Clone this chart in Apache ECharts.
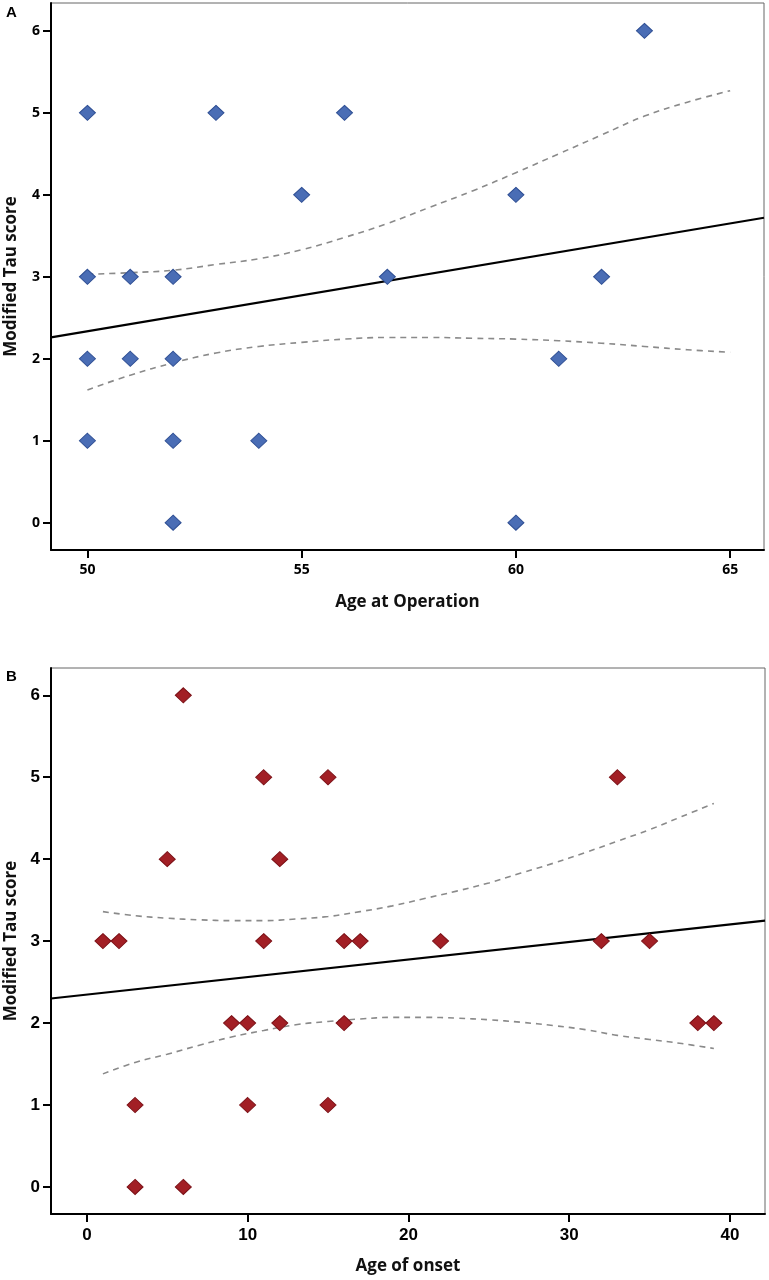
<!DOCTYPE html>
<html>
<head>
<meta charset="utf-8">
<script src="https://cdn.jsdelivr.net/npm/echarts@6/dist/echarts.min.js"></script>
<style>
html,body{margin:0;padding:0;background:#fff;}
#chart{width:769px;height:1280px;}
</style>
</head>
<body>
<div id="chart"></div>
<script>
// ---------- Panel A: Age at Operation vs Modified Tau score ----------
const aAge = [50,50,50,50,51,51,52,52,52,52,53,54,55,56,57,60,60,61,62,63];
const aTau = [5,3,2,1,3,2,3,2,1,0,5,1,4,5,3,4,0,2,3,6];
const aFitX = [49.15, 65.79];
const aFitY = [2.26, 3.72];
const aCiX = [50,51,52,53,54,55,56,57,58,59,60,61,62,63,64,65];
const aCiUpper = [3.03,3.05,3.08,3.15,3.22,3.33,3.48,3.65,3.85,4.05,4.27,4.5,4.73,4.96,5.13,5.27];
const aCiLower = [1.62,1.8,1.95,2.07,2.15,2.2,2.24,2.26,2.26,2.25,2.24,2.22,2.19,2.15,2.11,2.08];
const aXTicks = [50,55,60,65];
const aYTicks = [0,1,2,3,4,5,6];

// ---------- Panel B: Age of onset vs Modified Tau score ----------
const bAge = [6,11,15,33,5,12,1,2,11,16,17,22,32,35,9,10,12,16,38,39,3,10,15,3,6];
const bTau = [6,5,5,5,4,4,3,3,3,3,3,3,3,3,2,2,2,2,2,2,1,1,1,0,0];
const bFitX = [-2.23, 42.18];
const bFitY = [2.30, 3.25];
const bCiX = [1,3,5,7,9,11,13,15,17,19,21,23,25,27,29,31,33,35,37,39];
const bCiUpper = [3.36,3.31,3.28,3.26,3.25,3.25,3.27,3.3,3.36,3.43,3.52,3.61,3.71,3.83,3.95,4.08,4.22,4.36,4.52,4.68];
const bCiLower = [1.38,1.52,1.62,1.73,1.83,1.91,1.98,2.02,2.05,2.07,2.07,2.06,2.04,2.01,1.97,1.92,1.85,1.80,1.75,1.69];
const bXTicks = [0,10,20,30,40];
const bYTicks = [0,1,2,3,4,5,6];

const zip = (xs, ys) => xs.map((x, i) => [x, ys[i]]);

const fontA = '"Open Sans", "DejaVu Sans", sans-serif';
const fontB = '"Liberation Sans Narrow", "Liberation Sans", sans-serif';

function xAxisOf(idx, min, max, ticks, name, labelFont, labelSize) {
  return {
    type: 'value', gridIndex: idx, min: min, max: max,
    name: name, nameLocation: 'middle', nameGap: 44,
    nameTextStyle: { fontFamily: fontA, fontWeight: 'bold', fontSize: 17, color: '#111' },
    axisLine: { show: true, onZero: false, lineStyle: { color: '#000', width: 2 } },
    axisTick: { show: true, length: 8, customValues: ticks, lineStyle: { color: '#000', width: 2 } },
    axisLabel: { customValues: ticks, margin: 13, fontFamily: labelFont, fontWeight: 'bold', fontSize: labelSize, color: '#000' },
    splitLine: { show: false }
  };
}
function yAxisOf(idx, min, max, ticks, labelFont, labelSize) {
  return {
    type: 'value', gridIndex: idx, min: min, max: max,
    name: 'Modified Tau score', nameLocation: 'middle', nameGap: 31,
    nameTextStyle: { fontFamily: fontA, fontWeight: 'bold', fontSize: 17, color: '#111' },
    axisLine: { show: true, onZero: false, lineStyle: { color: '#000', width: 2 } },
    axisTick: { show: true, length: 8, customValues: ticks, lineStyle: { color: '#000', width: 2 } },
    axisLabel: { customValues: ticks, margin: 11, fontFamily: labelFont, fontWeight: 'bold', fontSize: labelSize, color: '#000' },
    splitLine: { show: false }
  };
}

function panelSeries(idx, xs, ys, fillColor, borderColor, fitX, fitY, ciX, ciU, ciL) {
  const dash = { color: '#8a8a8a', width: 1.6, type: [6, 5] };
  return [
    { type: 'line', xAxisIndex: idx, yAxisIndex: idx, data: zip(ciX, ciU), smooth: 0.4, showSymbol: false, lineStyle: dash, silent: true, z: 2 },
    { type: 'line', xAxisIndex: idx, yAxisIndex: idx, data: zip(ciX, ciL), smooth: 0.4, showSymbol: false, lineStyle: dash, silent: true, z: 2 },
    { type: 'line', xAxisIndex: idx, yAxisIndex: idx, data: zip(fitX, fitY), showSymbol: false, lineStyle: { color: '#000', width: 2.2 }, silent: true, z: 3 },
    { type: 'scatter', xAxisIndex: idx, yAxisIndex: idx, data: zip(xs, ys), symbol: 'diamond', symbolSize: [16, 15],
      itemStyle: { color: fillColor, borderColor: borderColor, borderWidth: 1, opacity: 1 }, z: 4 }
  ];
}

const chart = echarts.init(document.getElementById('chart'), null, { renderer: 'canvas' });
chart.setOption({
  animation: false,
  backgroundColor: '#fff',
  title: [
    { text: 'A', left: 6, top: 5, padding: 0, textStyle: { fontFamily: '"Liberation Sans", Arial, sans-serif', fontWeight: 'bold', fontSize: 15, color: '#000' } },
    { text: 'B', left: 6, top: 669, padding: 0, textStyle: { fontFamily: '"Liberation Sans", Arial, sans-serif', fontWeight: 'bold', fontSize: 15, color: '#000' } }
  ],
  grid: [
    { left: 51, right: 5, top: 3, height: 547, containLabel: false, outerBoundsMode: 'none', show: true, borderColor: '#666', borderWidth: 1, backgroundColor: 'transparent' },
    { left: 51, right: 4, top: 668, height: 546, containLabel: false, outerBoundsMode: 'none', show: true, borderColor: '#666', borderWidth: 1, backgroundColor: 'transparent' }
  ],
  xAxis: [
    xAxisOf(0, 49.15, 65.79, aXTicks, 'Age at Operation', fontA, 14),
    xAxisOf(1, -2.23, 42.18, bXTicks, 'Age of onset', fontB, 17)
  ],
  yAxis: [
    yAxisOf(0, -0.333, 6.34, aYTicks, fontA, 14),
    yAxisOf(1, -0.33, 6.333, bYTicks, fontB, 17)
  ],
  series: [].concat(
    panelSeries(0, aAge, aTau, '#4a6db5', '#2f4f94', aFitX, aFitY, aCiX, aCiUpper, aCiLower),
    panelSeries(1, bAge, bTau, '#a21f25', '#7c1117', bFitX, bFitY, bCiX, bCiUpper, bCiLower)
  )
});
</script>
</body>
</html>
